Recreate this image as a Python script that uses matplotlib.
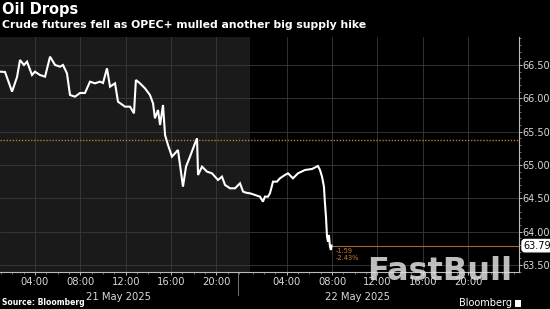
import matplotlib
matplotlib.use("Agg")
import matplotlib.pyplot as plt
from matplotlib.ticker import MultipleLocator, FixedLocator
import numpy as np

# ---------------- data ----------------
# 21 May 2025: hours of day, price
day1_hours = [0.92, 1.36, 1.98, 2.42, 2.68, 3.03, 3.30, 3.74, 4.00, 4.44, 4.89, 5.33,
              5.77, 6.21, 6.47, 6.82, 7.09, 7.53, 7.97, 8.41, 8.85, 9.29, 9.73, 10.00,
              10.35, 10.62, 11.06, 11.32, 11.94, 12.38, 12.73, 12.90, 13.26, 13.70, 14.14,
              14.41, 14.58, 14.85, 15.03, 15.29, 15.47, 15.73, 16.08, 16.61, 17.05, 17.32,
              17.67, 18.11, 18.29, 18.38, 18.73, 19.17, 19.61, 20.14, 20.49, 20.76, 21.20,
              21.64, 22.08, 22.35, 22.70]
day1_prices = [66.40, 66.395, 66.10, 66.32, 66.575, 66.50, 66.55, 66.35, 66.40, 66.35, 66.325, 66.625,
               66.50, 66.475, 66.50, 66.375, 66.05, 66.025, 66.08, 66.08, 66.25, 66.225, 66.25, 66.23,
               66.45, 66.175, 66.225, 65.95, 65.875, 65.875, 65.775, 66.275, 66.225, 66.15, 66.05,
               65.925, 65.70, 65.825, 65.60, 65.90, 65.45, 65.30, 65.125, 65.225, 64.675, 64.975,
               65.125, 65.325, 65.40, 64.85, 64.975, 64.90, 64.875, 64.775, 64.825, 64.70, 64.65,
               64.65, 64.725, 64.60, 64.58]
# 22 May 2025
day2_hours = [0.76, 1.20, 1.64, 1.90, 2.08, 2.35, 2.52, 2.79, 3.14, 3.40, 3.84, 4.11, 4.55,
              4.99, 5.61, 6.23, 6.75, 6.93, 7.11, 7.28, 7.37, 7.46, 7.55, 7.64, 7.72, 7.81,
              7.90, 7.95]
day2_prices = [64.575, 64.55, 64.525, 64.45, 64.525, 64.525, 64.575, 64.75, 64.75, 64.80, 64.85,
               64.875, 64.80, 64.875, 64.925, 64.94, 64.985, 64.925, 64.825, 64.675, 64.425,
               64.225, 63.925, 63.85, 63.95, 63.775, 63.725, 63.79]

prev_close = 65.38
last_price = 63.79
change = -1.59
change_pct = -2.43

y_ticks = [63.50, 64.00, 64.50, 65.00, 65.50, 66.00, 66.50]
x_tick_hours = [4, 8, 12, 16, 20]
x_tick_labels = ["04:00", "08:00", "12:00", "16:00", "20:00"]
day_labels = ["21 May 2025", "22 May 2025"]

title = "Oil Drops"
subtitle = "Crude futures fell as OPEC+ mulled another big supply hike"
source = "Source: Bloomberg"

# ---------------- layout ----------------
DAY2_OFFSET = 22.2      # trading-time position of 22 May 00:00
SESSION_START = 22.96   # previous-session shading ends here
W, H = 550, 309

fig = plt.figure(figsize=(W / 100, H / 100), dpi=100, facecolor="black")
ax = fig.add_axes([0 / W, 1 - 272.3 / H, 519 / W, (272.3 - 37) / H])
ax.set_facecolor("black")

xmin, xmax = 0.917, 46.68
ax.set_xlim(xmin, xmax)
ax.set_ylim(63.39, 66.92)

ax.axvspan(xmin, SESSION_START, color="#1a1a1a", zorder=0, lw=0)

grid_c = "#3a3a3a"
for y in y_ticks:
    ax.axhline(y, color=grid_c, lw=0.6, zorder=1)
xt = [h for h in x_tick_hours] + [h + DAY2_OFFSET for h in x_tick_hours]
for x in xt:
    ax.axvline(x, color=grid_c, lw=0.6, zorder=1)

x_all = list(day1_hours) + [h + DAY2_OFFSET for h in day2_hours]
y_all = list(day1_prices) + list(day2_prices)
ax.plot(x_all, y_all, color="white", lw=1.5, zorder=4, solid_joinstyle="miter")

ax.axhline(prev_close, color="#c8782c", lw=1.0, ls=(0, (1, 1.2)), zorder=3)
last_x = day2_hours[-1] + DAY2_OFFSET
ax.plot([last_x, xmax], [last_price, last_price], color="#a8662a", lw=0.8, zorder=3)
ax.text(last_x + 0.35, last_price - 0.03, f"{change:.2f}", color="#c8782c",
        fontsize=4.8, va="top", ha="left", zorder=5)
ax.text(last_x + 0.35, last_price - 0.14, f"{change_pct:.2f}%", color="#c8782c",
        fontsize=4.8, va="top", ha="left", zorder=5)

# axes styling
for s in ["top", "left"]:
    ax.spines[s].set_visible(False)
ax.spines["right"].set_color("#bbbbbb")
ax.spines["right"].set_linewidth(0.8)
ax.spines["bottom"].set_color("#bbbbbb")
ax.spines["bottom"].set_linewidth(0.8)
ax.yaxis.tick_right()
ax.set_yticks(y_ticks)
ax.set_yticklabels([f"{v:.2f}" for v in y_ticks])
ax.yaxis.set_minor_locator(MultipleLocator(0.1))
ax.tick_params(axis="y", colors="#d8d8d8", labelsize=7.0, length=2.0, width=0.6, pad=0.5)
ax.tick_params(axis="y", which="minor", color="#999999", length=1.2, width=0.5)
ax.set_xticks(xt)
ax.set_xticklabels(x_tick_labels * 2)
ax.xaxis.set_minor_locator(FixedLocator([h for h in range(1, 23)] +
                                        [h + DAY2_OFFSET for h in range(1, 25)]))
ax.tick_params(axis="x", colors="#d8d8d8", labelsize=7.2, length=2.5, width=0.6, pad=1)
ax.tick_params(axis="x", which="minor", color="#999999", length=1.5, width=0.5)

# last price label box
ax.text(1.008, last_price, f"{last_price:.2f}", transform=ax.get_yaxis_transform(),
        ha="left", va="center", fontsize=7.0, color="black", zorder=6, clip_on=False,
        bbox=dict(boxstyle="round,pad=0.12,rounding_size=0.3", fc="white", ec="white"))

# day labels and separator
trans = ax.get_xaxis_transform()
ax.text(11.4, -0.083, day_labels[0], transform=trans, ha="center", va="top",
        fontsize=7.2, color="#d8d8d8")
ax.text(DAY2_OFFSET + 10.2, -0.083, day_labels[1], transform=trans, ha="center", va="top",
        fontsize=7.2, color="#d8d8d8")
ax.plot([DAY2_OFFSET - 0.3, DAY2_OFFSET - 0.3], [0, -0.097], transform=trans,
        color="#888888", lw=0.6, clip_on=False)

# titles
fig.text(2 / W, 1 - 2 / H, title, color="white", fontsize=10.5, fontweight="bold",
         ha="left", va="top")
fig.text(2 / W, 1 - 20 / H, subtitle, color="white", fontsize=7.8, fontweight="bold",
         ha="left", va="top")
fig.text(2 / W, 1 - 302.5 / H, source, color="white", fontsize=5.5, fontweight="bold",
         ha="left", va="center")
fig.text(512 / W, 1 - 302.5 / H, "Bloomberg", color="white", fontsize=7.0,
         ha="right", va="center")
fig.patches.append(plt.Rectangle((515 / W, 1 - 307 / H), 6 / W, 7 / H,
                                 transform=fig.transFigure, fc="white", ec="none"))

# watermark
fig.text(440 / W, 1 - 271 / H, "FastBull", color="#e0e0e0", alpha=0.85, fontsize=23,
         fontweight="bold", ha="center", va="center")

fig.savefig("out.png", dpi=100, facecolor="black")
